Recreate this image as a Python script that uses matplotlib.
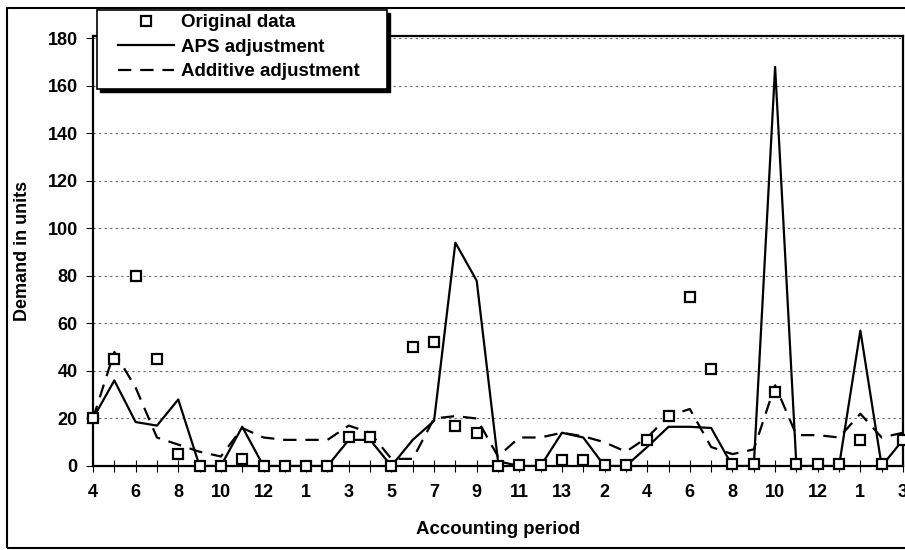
import matplotlib
matplotlib.use("Agg")
from matplotlib import pyplot as plt
from matplotlib import patches

plt.rcParams['font.family'] = ['Liberation Sans', 'DejaVu Sans']
plt.rcParams['font.weight'] = 'bold'

# accounting periods (13 per year), starting at period 4
periods = [4, 5, 6, 7, 8, 9, 10, 11, 12, 13,
           1, 2, 3, 4, 5, 6, 7, 8, 9, 10, 11, 12, 13,
           1, 2, 3, 4, 5, 6, 7, 8, 9, 10, 11, 12, 13,
           1, 2, 3]

original = [20, 45, 80, 45, 5, 0, 0, 3, 0, 0,
            0, 0, 12, 12, 0, 50, 52, 17, 14, 0, 0.5, 0.5, 2.5,
            2.5, 0.5, 0.5, 11, 21, 71, 41, 1, 1, 31, 1, 1, 1,
            11, 1, 11]

aps = [20, 36, 18.5, 17, 28, 0, 0, 16.5, 0, 0,
       0, 0, 11, 11, 0, 11, 19, 94, 78, 2, 0, 0, 14,
       12, 0, 0, 8, 16.5, 16.5, 16, 0, 0, 168, 0, 0, 0,
       57, 0, 11]

additive = [20, 48, 33, 12, 9, 6, 4, 16, 12, 11,
            11, 11, 17, 14, 3, 3, 20, 21, 20, 4, 12, 12, 14,
            12.5, 10, 6, 12, 21, 24, 8, 5, 7, 34, 13, 13, 12,
            22, 12, 14]

x = list(range(len(periods)))

W, H = 905, 550
fig = plt.figure(figsize=(W / 100, H / 100), dpi=100)
ax = fig.add_axes([93 / W, 1 - 466 / H, (903 - 93) / W, (466 - 36) / H])

ax.grid(axis='y', linestyle=(0, (2, 3)), color='#666666', linewidth=0.8)
ax.set_axisbelow(True)

ax.plot(x, aps, color='black', linewidth=1.6, label='APS adjustment')
ax.plot(x, additive, color='black', linewidth=1.6, linestyle=(0, (6, 4)),
        label='Additive adjustment')
ax.plot(x, original, linestyle='', marker='s', markersize=7.5,
        markerfacecolor='white', markeredgecolor='black', markeredgewidth=1.6,
        label='Original data', clip_on=False, zorder=5)

ax.set_xlim(0, len(periods) - 1)
ax.set_ylim(0, 181)
ax.set_yticks(range(0, 181, 20))
ax.set_xticks(x[::2])
ax.set_xticklabels([str(p) for p in periods[::2]])
ax.set_xticks(x, minor=True)

ax.tick_params(axis='x', which='both', direction='inout', length=8, width=0.8,
               labelsize=13, pad=9)
ax.tick_params(axis='y', direction='out', length=5, width=0.8, labelsize=13, pad=6)

for s in ax.spines.values():
    s.set_linewidth(1.6)

ax.set_xlabel('Accounting period', fontsize=13.4, fontweight='bold', labelpad=14)
ax.set_ylabel('Demand in units', fontsize=13, fontweight='bold', labelpad=12)

# legend box drawn by hand (wider side padding than matplotlib allows)
fig.patches.append(patches.Rectangle((100 / W, 1 - 92 / H), 290 / W, 79 / H,
                                     transform=fig.transFigure, facecolor='black',
                                     edgecolor='black', zorder=3))
fig.patches.append(patches.Rectangle((97 / W, 1 - 89 / H), 290 / W, 79 / H,
                                     transform=fig.transFigure, facecolor='white',
                                     edgecolor='black', linewidth=1.2, zorder=4))

handles, labels = ax.get_legend_handles_labels()
order = [2, 0, 1]
leg = fig.legend([handles[i] for i in order], [labels[i] for i in order],
                 loc='upper left', bbox_to_anchor=(118 / W, 1 - 14 / H),
                 frameon=False, fontsize=13.5,
                 handlelength=3.0, borderpad=0, labelspacing=0.4,
                 handletextpad=0.35, borderaxespad=0)
leg.set_zorder(6)

fig.patches.append(patches.Rectangle((7 / W, 2 / H), 1.0, 1 - 10 / H,
                                     transform=fig.transFigure, fill=False,
                                     edgecolor='black', linewidth=1.5))

fig.savefig('out.png', dpi=100)
